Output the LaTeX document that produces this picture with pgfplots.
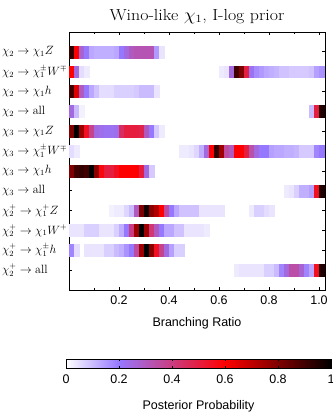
\documentclass[border=0pt]{standalone}
\usepackage{fontspec}
\usepackage{pgfplots}
\pgfplotsset{compat=1.18}
\usepackage{pgfplotstable}
\newfontfamily\hv{Liberation Sans}
\newcommand\fs{\fontsize{12.5}{14}\selectfont}
\pgfplotsset{colormap={post}{rgb255(0cm)=(255,255,255); rgb255(2cm)=(150,120,255); rgb255(6cm)=(255,0,0); rgb255(10cm)=(0,0,0)}}
\pgfplotsset{cell/.style={scatter, only marks, mark=square*, mark size=2.5pt,
  mark options={yscale=2.38, line width=0.3pt}, point meta=explicit,
  scatter/use mapped color={draw=mapped color, fill=mapped color}}}

\pgfplotstableread{
x y c
0.01 1 0.92
0.03 1 0.6
0.05 1 0.27
0.07 1 0.2
0.09 1 0.13
0.11 1 0.12
0.13 1 0.12
0.15 1 0.12
0.17 1 0.12
0.19 1 0.13
0.21 1 0.2
0.23 1 0.25
0.25 1 0.3
0.27 1 0.32
0.29 1 0.32
0.31 1 0.32
0.33 1 0.32
0.35 1 0.15
0.37 1 0.04
}\rowA
\pgfplotstableread{
x y c
0.01 2 0.6
0.03 2 0.25
0.05 2 0.05
0.07 2 0.03
0.61 2 0.03
0.63 2 0.04
0.65 2 0.25
0.67 2 0.9
0.69 2 0.8
0.71 2 0.5
0.73 2 0.22
0.75 2 0.17
0.77 2 0.15
0.79 2 0.13
0.81 2 0.12
0.83 2 0.11
0.85 2 0.09
0.87 2 0.09
0.89 2 0.08
0.91 2 0.08
0.93 2 0.08
0.95 2 0.08
0.97 2 0.09
0.99 2 0.14
1.01 2 0.16
1.03 2 0.16
}\rowB
\pgfplotstableread{
x y c
0.01 3 0.9
0.03 3 0.65
0.05 3 0.3
0.07 3 0.2
0.09 3 0.13
0.11 3 0.09
0.13 3 0.05
0.15 3 0.05
0.17 3 0.05
0.19 3 0.07
0.21 3 0.07
0.23 3 0.07
0.25 3 0.07
0.27 3 0.08
0.29 3 0.1
0.31 3 0.1
0.33 3 0.1
0.35 3 0.04
}\rowC
\pgfplotstableread{
x y c
0.01 4 0.25
0.03 4 0.1
0.05 4 0.02
0.97 4 0.1
0.99 4 0.5
1.01 4 0.95
1.03 4 0.6
}\rowD
\pgfplotstableread{
x y c
0.01 5 0.8
0.03 5 1.0
0.05 5 0.75
0.07 5 0.55
0.09 5 0.38
0.11 5 0.25
0.13 5 0.23
0.15 5 0.22
0.17 5 0.22
0.19 5 0.23
0.21 5 0.45
0.23 5 0.5
0.25 5 0.5
0.27 5 0.5
0.29 5 0.48
0.31 5 0.3
0.33 5 0.2
0.35 5 0.08
0.37 5 0.03
}\rowE
\pgfplotstableread{
x y c
0.01 6 0.05
0.03 6 0.03
0.45 6 0.03
0.47 6 0.03
0.49 6 0.04
0.51 6 0.06
0.53 6 0.12
0.55 6 0.25
0.57 6 0.6
0.59 6 0.92
0.61 6 0.75
0.63 6 0.35
0.65 6 0.3
0.67 6 0.6
0.69 6 0.6
0.71 6 0.5
0.73 6 0.33
0.75 6 0.25
0.77 6 0.2
0.79 6 0.2
0.81 6 0.14
0.83 6 0.13
0.85 6 0.13
0.87 6 0.12
0.89 6 0.12
0.91 6 0.11
0.93 6 0.08
0.95 6 0.08
0.97 6 0.08
0.99 6 0.18
1.01 6 0.2
1.03 6 0.2
}\rowF
\pgfplotstableread{
x y c
0.01 7 0.8
0.03 7 0.9
0.05 7 0.92
0.07 7 0.9
0.09 7 1.0
0.11 7 0.78
0.13 7 0.58
0.15 7 0.5
0.17 7 0.5
0.19 7 0.55
0.21 7 0.6
0.23 7 0.6
0.25 7 0.6
0.27 7 0.6
0.29 7 0.5
0.31 7 0.25
0.33 7 0.08
}\rowG
\pgfplotstableread{
x y c
0.87 8 0.03
0.89 8 0.04
0.91 8 0.07
0.93 8 0.12
0.95 8 0.12
0.97 8 0.14
0.99 8 0.55
1.01 8 0.95
1.03 8 0.6
}\rowH
\pgfplotstableread{
x y c
0.17 9 0.02
0.19 9 0.03
0.21 9 0.03
0.23 9 0.06
0.25 9 0.1
0.27 9 0.3
0.29 9 0.8
0.31 9 0.97
0.33 9 0.78
0.35 9 0.72
0.37 9 0.6
0.39 9 0.35
0.41 9 0.2
0.43 9 0.13
0.45 9 0.09
0.47 9 0.09
0.49 9 0.09
0.51 9 0.09
0.53 9 0.04
0.55 9 0.04
0.57 9 0.04
0.59 9 0.04
0.61 9 0.04
0.73 9 0.03
0.75 9 0.07
0.77 9 0.07
0.79 9 0.05
0.81 9 0.04
}\rowI
\pgfplotstableread{
x y c
0.01 10 0.04
0.03 10 0.04
0.05 10 0.04
0.07 10 0.07
0.09 10 0.07
0.11 10 0.07
0.13 10 0.04
0.15 10 0.04
0.17 10 0.04
0.19 10 0.07
0.21 10 0.12
0.23 10 0.2
0.25 10 0.4
0.27 10 0.75
0.29 10 1.0
0.31 10 0.75
0.33 10 0.42
0.35 10 0.3
0.37 10 0.2
0.39 10 0.13
0.41 10 0.13
0.43 10 0.09
0.45 10 0.09
0.47 10 0.04
0.49 10 0.04
0.51 10 0.04
0.53 10 0.04
0.55 10 0.03
}\rowJ
\pgfplotstableread{
x y c
0.01 11 0.18
0.03 11 0.05
0.07 11 0.04
0.09 11 0.04
0.11 11 0.04
0.13 11 0.04
0.15 11 0.07
0.17 11 0.07
0.19 11 0.1
0.21 11 0.12
0.23 11 0.16
0.25 11 0.2
0.27 11 0.35
0.29 11 0.75
0.31 11 1.0
0.33 11 0.78
0.35 11 0.55
0.37 11 0.38
0.39 11 0.25
0.41 11 0.14
0.43 11 0.07
0.45 11 0.07
}\rowK
\pgfplotstableread{
x y c
0.67 12 0.03
0.69 12 0.04
0.71 12 0.04
0.73 12 0.04
0.75 12 0.04
0.77 12 0.04
0.79 12 0.07
0.81 12 0.07
0.83 12 0.1
0.85 12 0.18
0.87 12 0.25
0.89 12 0.34
0.91 12 0.34
0.93 12 0.27
0.95 12 0.18
0.97 12 0.13
0.99 12 0.55
1.01 12 0.95
1.03 12 0.6
}\rowL

\begin{document}
\begin{tikzpicture}
\path[use as bounding box] (0,0) rectangle (332pt,-414pt);
\begin{axis}[
  at={(69pt,-290pt)}, anchor=south west,
  scale only axis, width=256pt, height=258pt,
  xmin=0, xmax=1.024, ymin=0, ymax=13, y dir=reverse,
  colormap name=post, point meta min=0, point meta max=1,
  axis line style={line width=1pt},
  tick align=inside, major tick length=3pt, minor tick length=2pt,
  tick style={line width=0.8pt, black},
  xtick={0.2,0.4,0.6,0.8,1.0},
  minor xtick={0.1,0.3,0.5,0.7,0.9},
  xticklabel style={font=\hv\fs, yshift=-2pt, /pgf/number format/.cd, fixed, fixed zerofill, precision=1, assume math mode=true},
  xlabel={Branching Ratio}, xlabel style={font=\hv\fs, yshift=-6pt},
  ytick={1,...,12},
  yticklabels={
    {$\chi_2\rightarrow\chi_1 Z$},
    {$\chi_2\rightarrow\chi_1^\pm W^\mp$},
    {$\chi_2\rightarrow\chi_1 h$},
    {$\chi_2\rightarrow\mathrm{all}$},
    {$\chi_3\rightarrow\chi_1 Z$},
    {$\chi_3\rightarrow\chi_1^\pm W^\mp$},
    {$\chi_3\rightarrow\chi_1 h$},
    {$\chi_3\rightarrow\mathrm{all}$},
    {$\chi_2^+\rightarrow\chi_1^+ Z$},
    {$\chi_2^+\rightarrow\chi_1 W^+$},
    {$\chi_2^+\rightarrow\chi_1^\pm h$},
    {$\chi_2^+\rightarrow\mathrm{all}$}},
  yticklabel style={anchor=west, xshift=-70.5pt, font=\fontsize{12}{14}\selectfont},
  title={\scalebox{1.12}[1]{Wino-like $\chi_1$, I-log prior}},
  title style={font=\fontsize{16}{18}\selectfont, yshift=-1pt},
]
\addplot[cell] table[x=x,y=y,meta=c]{\rowA};
\addplot[cell] table[x=x,y=y,meta=c]{\rowB};
\addplot[cell] table[x=x,y=y,meta=c]{\rowC};
\addplot[cell] table[x=x,y=y,meta=c]{\rowD};
\addplot[cell] table[x=x,y=y,meta=c]{\rowE};
\addplot[cell] table[x=x,y=y,meta=c]{\rowF};
\addplot[cell] table[x=x,y=y,meta=c]{\rowG};
\addplot[cell] table[x=x,y=y,meta=c]{\rowH};
\addplot[cell] table[x=x,y=y,meta=c]{\rowI};
\addplot[cell] table[x=x,y=y,meta=c]{\rowJ};
\addplot[cell] table[x=x,y=y,meta=c]{\rowK};
\addplot[cell] table[x=x,y=y,meta=c]{\rowL};
\end{axis}
\begin{axis}[
  at={(66pt,-368pt)}, anchor=south west,
  scale only axis, width=265pt, height=9pt,
  xmin=0, xmax=1, ymin=0, ymax=1,
  ytick=\empty, xtick={0,0.2,0.4,0.6,0.8,1},
  tick align=inside, major tick length=2pt, tick style={black, line width=0.6pt},
  axis on top, axis line style={line width=0.8pt},
  colormap name=post, point meta min=0, point meta max=1,
  xticklabel style={font=\hv\fs, yshift=-3pt, /pgf/number format/assume math mode=true},
  xlabel={Posterior Probability}, xlabel style={font=\hv\fs, yshift=-10pt},
]
\addplot[surf, shader=interp, mesh/rows=2, mesh/cols=4, point meta=x] coordinates {
(0,0) (0.2,0) (0.6,0) (1,0)
(0,1) (0.2,1) (0.6,1) (1,1)
};
\end{axis}
\end{tikzpicture}
\end{document}
